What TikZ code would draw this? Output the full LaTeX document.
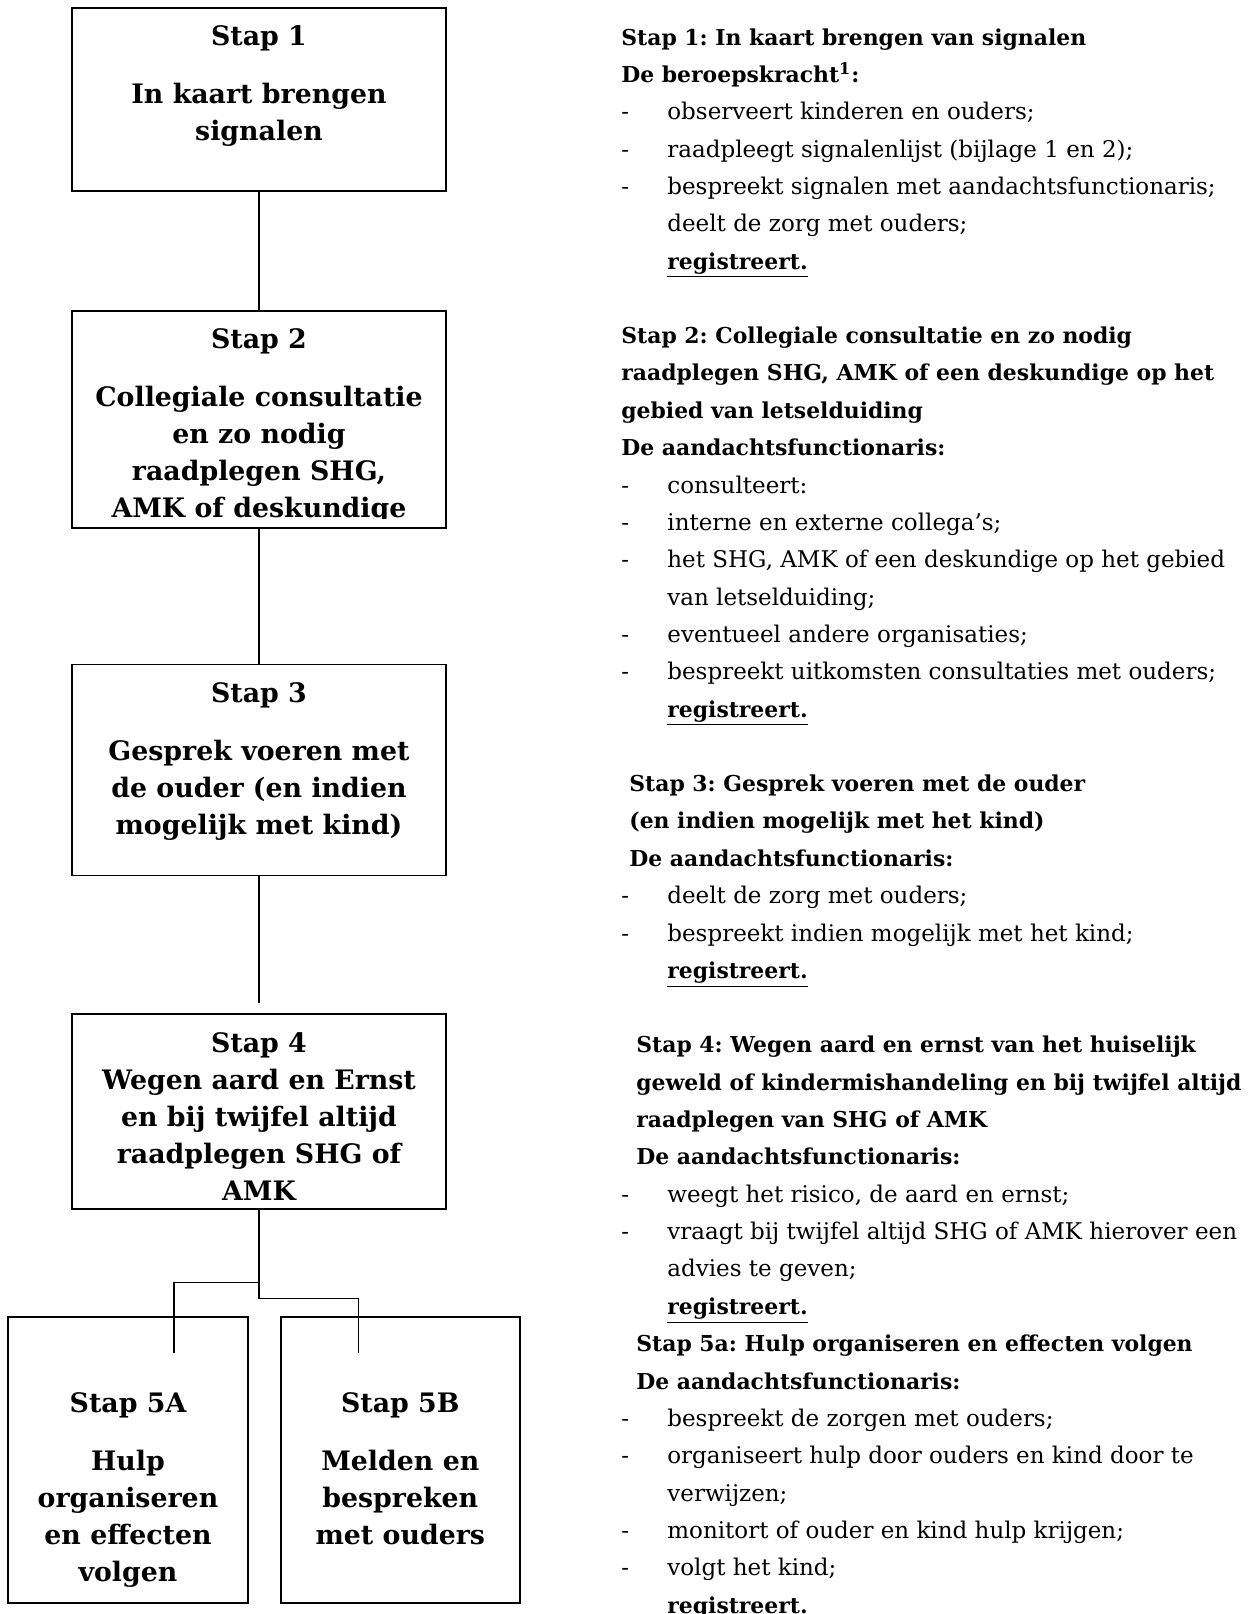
\documentclass[tikz,border=0pt]{standalone}
\usepackage{fontspec}
\setmainfont{DejaVu Serif}
\usetikzlibrary{positioning}

\frenchspacing
\newcommand{\stapkop}[1]{{\bfseries\fontsize{10.95}{18.67}\selectfont #1}}
\newcommand{\stapitem}[1]{\makebox[23pt][l]{-}#1}
\newcommand{\stapcont}[1]{\hspace*{23pt}#1}
\newcommand{\regline}{\hspace*{23pt}\stapkop{\underline{registreert.}}}

\begin{document}
\begin{tikzpicture}[x=0.5pt, y=-0.5pt,
    stepbox/.style={draw, line width=0.9pt, rectangle, minimum width=187pt, inner sep=0pt},
    steptext/.style={align=center, inner sep=0pt, anchor=north, font=\bfseries\fontsize{13.4}{18.5}\selectfont},
    infotext/.style={align=left, inner sep=0pt, anchor=north west, font=\fontsize{11.5}{18.67}\selectfont},
    link/.style={line width=0.7pt}]
    \useasboundingbox (0,0) rectangle (1255,1614);

    % stappen links
    \node[stepbox, minimum height=91.5pt, anchor=north] (s1) at (259,7) {};
    \node[stepbox, minimum height=108.5pt, below=59pt of s1] (s2) {};
    \node[stepbox, minimum height=105.5pt, below=67.5pt of s2] (s3) {};
    \node[stepbox, minimum height=97.5pt, below=68.5pt of s3] (s4) {};
    \node[stepbox, minimum width=120pt, minimum height=143pt, below=53pt of s4, xshift=-65.5pt] (s5a) {};
    \node[stepbox, minimum width=119.5pt, minimum height=143pt, right=15.5pt of s5a] (s5b) {};

    \node[steptext] (t1) at ([yshift=-9.2pt]s1.north) {Stap 1\\[10.5pt] In kaart brengen\\ signalen};
    \begin{scope}
        \clip ([yshift=5pt]s2.south west) rectangle (s2.north east);
        \node[steptext] (t2) at ([yshift=-9.2pt]s2.north) {Stap 2\\[10.5pt] Collegiale consultatie\\ en zo nodig\\ raadplegen SHG,\\ AMK of deskundige};
    \end{scope}
    \node[steptext] (t3) at ([yshift=-9.2pt]s3.north) {Stap 3\\[10.5pt] Gesprek voeren met\\ de ouder (en indien\\ mogelijk met kind)};
    \node[steptext] (t4) at ([yshift=-9.2pt]s4.north) {Stap 4\\ Wegen aard en Ernst\\ en bij twijfel altijd\\ raadplegen SHG of\\ AMK};
    \node[steptext] (t5a) at ([yshift=-38pt]s5a.north) {Stap 5A\\[10.5pt] Hulp\\ organiseren\\ en effecten\\ volgen};
    \node[steptext] (t5b) at ([yshift=-38pt]s5b.north) {Stap 5B\\[10.5pt] Melden en\\ bespreken\\ met ouders};

    % verbindingen
    \coordinate (s4top) at ([yshift=5pt]s4.north);
    \coordinate (hulpin) at ([xshift=23pt, yshift=-18.5pt]s5a.north);
    \coordinate (meldin) at ([xshift=-21pt, yshift=-18.5pt]s5b.north);
    \draw[link] (s1.south) -- (s2.north);
    \draw[link] (s2.south) -- (s3.north);
    \draw[link] (s3.south) -- (s4top);
    \draw[link] (s4.south) -- ++(0,-36pt) -| (hulpin);
    \draw[link] (s4.south) -- ++(0,-44pt) -| (meldin);

    % toelichting rechts
    \node[infotext] (info1) at (621,28) {%
        \stapkop{Stap 1: In kaart brengen van signalen}\\
        \stapkop{De beroepskracht\textsuperscript{1}:}\\
        \stapitem{observeert kinderen en ouders;}\\
        \stapitem{raadpleegt signalenlijst (bijlage 1 en 2);}\\
        \stapitem{bespreekt signalen met aandachtsfunctionaris;}\\
        \stapcont{deelt de zorg met ouders;}\\
        \regline};
    \node[infotext] (info2) at (621,326.6) {%
        \stapkop{Stap 2: Collegiale consultatie en zo nodig}\\
        \stapkop{raadplegen SHG, AMK of een deskundige op het}\\
        \stapkop{gebied van letselduiding}\\
        \stapkop{De aandachtsfunctionaris:}\\
        \stapitem{consulteert:}\\
        \stapitem{interne en externe collega’s;}\\
        \stapitem{het SHG, AMK of een deskundige op het gebied}\\
        \stapcont{van letselduiding;}\\
        \stapitem{eventueel andere organisaties;}\\
        \stapitem{bespreekt uitkomsten consultaties met ouders;}\\
        \regline};
    \node[infotext] (info3) at (621,774.6) {%
        \hspace*{4pt}\stapkop{Stap 3: Gesprek voeren met de ouder}\\
        \hspace*{4pt}\stapkop{(en indien mogelijk met het kind)}\\
        \hspace*{4pt}\stapkop{De aandachtsfunctionaris:}\\
        \stapitem{deelt de zorg met ouders;}\\
        \stapitem{bespreekt indien mogelijk met het kind;}\\
        \regline};
    \node[infotext] (info4) at (621,1035.9) {%
        \hspace*{7.5pt}\stapkop{Stap 4: Wegen aard en ernst van het huiselijk}\\
        \hspace*{7.5pt}\stapkop{geweld of kindermishandeling en bij twijfel altijd}\\
        \hspace*{7.5pt}\stapkop{raadplegen van SHG of AMK}\\
        \hspace*{7.5pt}\stapkop{De aandachtsfunctionaris:}\\
        \stapitem{weegt het risico, de aard en ernst;}\\
        \stapitem{vraagt bij twijfel altijd SHG of AMK hierover een}\\
        \stapcont{advies te geven;}\\
        \regline};
    \node[infotext] (info5) at (621,1334.6) {%
        \hspace*{7.5pt}\stapkop{Stap 5a: Hulp organiseren en effecten volgen}\\
        \hspace*{7.5pt}\stapkop{De aandachtsfunctionaris:}\\
        \stapitem{bespreekt de zorgen met ouders;}\\
        \stapitem{organiseert hulp door ouders en kind door te}\\
        \stapcont{verwijzen;}\\
        \stapitem{monitort of ouder en kind hulp krijgen;}\\
        \stapitem{volgt het kind;}\\
        \regline};
\end{tikzpicture}
\end{document}
